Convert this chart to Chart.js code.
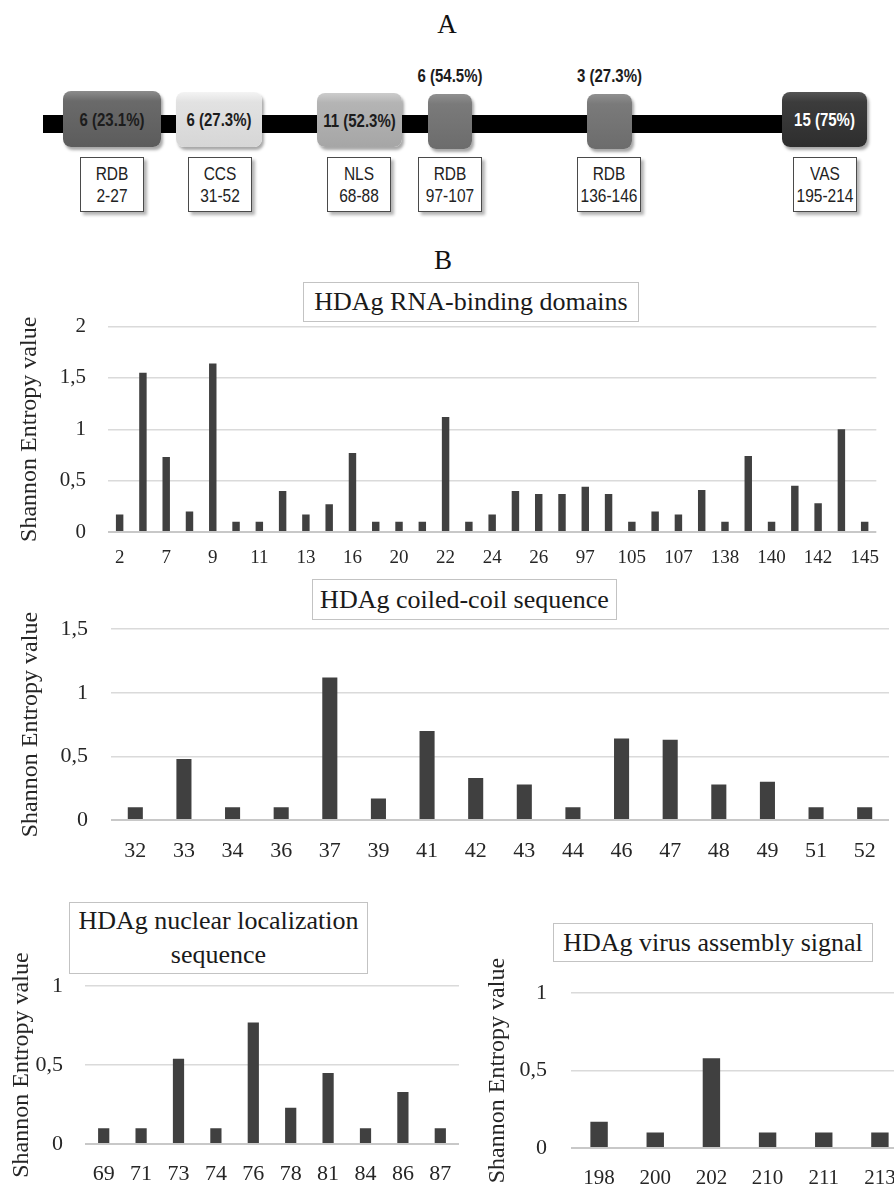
<!DOCTYPE html>
<html>
<head>
<meta charset="utf-8">
<script src="https://cdn.jsdelivr.net/npm/chart.js@4.4.1/dist/chart.umd.min.js"></script>
<style>
html, body { margin:0; padding:0; background:#fff; width:894px; height:1189px; overflow:hidden; position:relative; }
.letter { position:absolute; width:60px; text-align:center; font-family:'Liberation Serif', serif; font-size:27px; color:#111; line-height:30px; }
.line { position:absolute; left:43px; top:115px; width:820px; height:18px; background:#000; }
.dom { position:absolute; border-radius:8px; font:bold 15px 'Liberation Sans', Arial, sans-serif; color:#1c1c1c; display:flex; align-items:center; justify-content:center; box-shadow:2px 3px 3px rgba(0,0,0,0.35); white-space:nowrap; }
.dom span, .above span, .lab span { display:inline-block; transform:scaleY(1.2); }
.above { position:absolute; width:90px; text-align:center; font:bold 15px 'Liberation Sans', Arial, sans-serif; color:#1c1c1c; }
.lab { position:absolute; top:157px; height:55px; width:64px; background:#fff; border:1.5px solid #4a4a4a; box-shadow:3px 3px 3px rgba(0,0,0,0.3); font:15.5px 'Liberation Sans', Arial, sans-serif; color:#222; text-align:center; line-height:22px; padding-top:5px; box-sizing:border-box; }
.tbox { position:absolute; border:1.5px solid #c3c3c3; background:#fff; box-sizing:border-box; font-family:'Liberation Serif', serif; font-size:26px; color:#1a1a1a; text-align:center; display:flex; align-items:center; justify-content:center; line-height:34px; z-index:2; }
canvas { position:absolute; }
</style>
</head>
<body>
<div class="letter" style="left:417px; top:9px;">A</div>
<div class="line"></div>
<div id="panelA"></div>
<div class="letter" style="left:413px; top:245px;">B</div>

<canvas id="c1" width="894" height="288" style="left:0; top:292px;"></canvas>
<canvas id="c2" width="894" height="277" style="left:0; top:593px;"></canvas>
<canvas id="c3" width="470" height="238" style="left:0; top:951px;"></canvas>
<canvas id="c4" width="450" height="233" style="left:470px; top:956px;"></canvas>

<div class="tbox" style="left:303px; top:282px; width:336px; height:40px;">HDAg RNA-binding domains</div>
<div class="tbox" style="left:312px; top:579px; width:305px; height:41px;">HDAg coiled-coil sequence</div>
<div class="tbox" style="left:69px; top:902px; width:299px; height:72px;">HDAg nuclear localization<br>sequence</div>
<div class="tbox" style="left:553px; top:923px; width:320px; height:39px;">HDAg virus assembly signal</div>

<script>
// ---- panel A: HDAg domains ----
var domainNames = ['RDB', 'CCS', 'NLS', 'RDB', 'RDB', 'VAS'];
var domainRanges = ['2-27', '31-52', '68-88', '97-107', '136-146', '195-214'];
var domainCounts = ['6 (23.1%)', '6 (27.3%)', '11 (52.3%)', '6 (54.5%)', '3 (27.3%)', '15 (75%)'];

// ---- panel B: Shannon entropy per position ----
var rdbSites = ['2', '5', '7', '8', '9', '10', '11', '12', '13', '14', '16', '19', '20', '21', '22', '23', '24',
                '25', '26', '27', '97', '100', '105', '106', '107', '136', '138', '139', '140', '141', '142', '144', '145'];
var rdbEntropy = [0.17, 1.55, 0.73, 0.2, 1.64, 0.1, 0.1, 0.4, 0.17, 0.27, 0.77, 0.1, 0.1, 0.1, 1.12, 0.1, 0.17,
                  0.4, 0.37, 0.37, 0.44, 0.37, 0.1, 0.2, 0.17, 0.41, 0.1, 0.74, 0.1, 0.45, 0.28, 1.0, 0.1];

var ccsSites = ['32', '33', '34', '36', '37', '39', '41', '42', '43', '44', '46', '47', '48', '49', '51', '52'];
var ccsEntropy = [0.1, 0.48, 0.1, 0.1, 1.12, 0.17, 0.7, 0.33, 0.28, 0.1, 0.64, 0.63, 0.28, 0.3, 0.1, 0.1];

var nlsSites = ['69', '71', '73', '74', '76', '78', '81', '84', '86', '87'];
var nlsEntropy = [0.1, 0.1, 0.54, 0.1, 0.77, 0.23, 0.45, 0.1, 0.33, 0.1];

var vasSites = ['198', '200', '202', '210', '211', '213'];
var vasEntropy = [0.17, 0.1, 0.58, 0.1, 0.1, 0.1];

// schematic layout (pixels), kept apart from the values
var boxPos = [[63, 91, 98, 56], [176, 92, 86, 55], [317, 93, 85, 54], [428, 94, 44, 55], [587, 94, 45, 55], [782, 92, 85, 55]];
var boxFill = ['linear-gradient(#8c8c8c, #6a6a6a 18%, #5c5c5c)', 'linear-gradient(#f4f4f4, #e2e2e2 18%, #d6d6d6)',
               'linear-gradient(#cccccc, #b4b4b4 18%, #a6a6a6)', 'linear-gradient(#909090, #7a7a7a 18%, #6c6c6c)',
               'linear-gradient(#909090, #7a7a7a 18%, #6c6c6c)', 'linear-gradient(#555555, #3c3c3c 18%, #2e2e2e)'];
var labLeft = [80, 188, 327, 418, 577, 793];

var pa = document.getElementById('panelA');
for (var i = 0; i < domainNames.length; i++) {
  var b = document.createElement('div');
  b.className = 'dom';
  b.style.left = boxPos[i][0] + 'px';
  b.style.top = boxPos[i][1] + 'px';
  b.style.width = boxPos[i][2] + 'px';
  b.style.height = boxPos[i][3] + 'px';
  b.style.background = boxFill[i];
  if (i == 5) b.style.color = '#fff';
  if (boxPos[i][2] > 60) {
    b.innerHTML = '<span>' + domainCounts[i] + '</span>';
  } else {
    var a = document.createElement('div');  // small boxes get the count above
    a.className = 'above';
    a.style.left = (boxPos[i][0] + boxPos[i][2] / 2 - 45) + 'px';
    a.style.top = '67px';
    a.innerHTML = '<span>' + domainCounts[i] + '</span>';
    pa.appendChild(a);
  }
  pa.appendChild(b);
  var l = document.createElement('div');
  l.className = 'lab';
  l.style.left = labLeft[i] + 'px';
  l.innerHTML = '<span>' + domainNames[i] + '</span><br><span>' + domainRanges[i] + '</span>';
  pa.appendChild(l);
}

var SERIF = "'Liberation Serif', 'Times New Roman', serif";

function makeChart(id, labels, values, o) {
  return new Chart(document.getElementById(id), {
    type: 'bar',
    data: {
      labels: labels,
      datasets: [{ data: values, backgroundColor: '#404040', barPercentage: 1, categoryPercentage: o.cat }]
    },
    options: {
      responsive: false,
      animation: false,
      devicePixelRatio: 1,
      layout: { padding: { top: 4, right: o.padRight, left: 0, bottom: 0 } },
      plugins: { legend: { display: false }, tooltip: { enabled: false } },
      scales: {
        x: {
          grid: { display: false, drawTicks: false },
          border: { display: false },
          ticks: {
            color: '#262626', font: { family: SERIF, size: o.xFont }, padding: o.xPad,
            autoSkip: false, maxRotation: 0,
            callback: function(v, i) { return (o.every && i % o.every) ? '' : this.getLabelForValue(v); }
          },
          afterFit: function(s) { s.height = o.xH; }
        },
        y: {
          min: 0, max: o.max,
          border: { display: false },
          grid: {
            drawTicks: false,
            color: function(c) { return c.tick && c.tick.value === 0 ? '#c8c8c8' : '#dadada'; },
            lineWidth: function(c) { return c.tick && c.tick.value === 0 ? 2 : 1.5; }
          },
          ticks: {
            stepSize: 0.5, padding: o.yPad, color: '#262626',
            font: { family: SERIF, size: o.yFont },
            callback: function(v) { return String(v).replace('.', ','); }
          },
          title: {
            display: true, text: 'Shannon Entropy value', color: '#262626',
            font: { family: SERIF, size: 24 }, padding: { top: o.tPad, bottom: 0 }
          },
          afterFit: function(s) { s.width = o.yW; }
        }
      }
    }
  });
}

makeChart('c1', rdbSites, rdbEntropy, { cat: 0.32, max: 2, padRight: 5, yW: 108, xH: 48,
  xFont: 19, yFont: 21, xPad: 15, yPad: 22, tPad: 15, every: 2 });
makeChart('c2', ccsSites, ccsEntropy, { cat: 0.31, max: 1.5, padRight: 5, yW: 111, xH: 50,
  xFont: 22, yFont: 22, xPad: 18, yPad: 23, tPad: 16 });
makeChart('c3', nlsSites, nlsEntropy, { cat: 0.3, max: 1, padRight: 11, yW: 85, xH: 45,
  xFont: 22, yFont: 22, xPad: 17, yPad: 22, tPad: 7 });
makeChart('c4', vasSites, vasEntropy, { cat: 0.31, max: 1, padRight: 12, yW: 101, xH: 41,
  xFont: 21, yFont: 22, xPad: 18, yPad: 24, tPad: 13 });
</script>
</body>
</html>
